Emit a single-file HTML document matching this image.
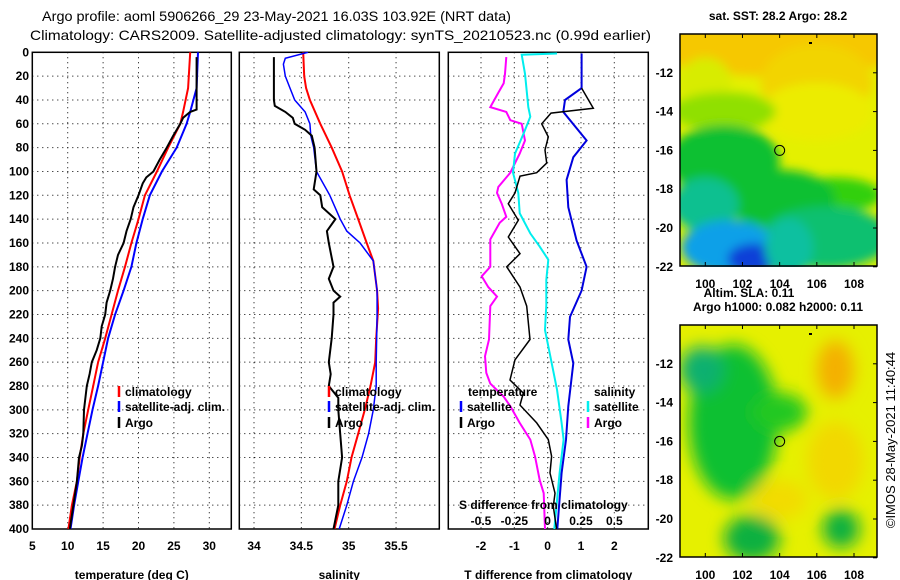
<!DOCTYPE html>
<html><head><meta charset="utf-8"><style>
html,body{margin:0;padding:0;background:#fff;}
svg{display:block;font-family:"Liberation Sans",sans-serif;}
.t{font-size:12px;font-weight:bold;fill:#000;}
</style></head><body>
<svg id="chart" width="900" height="580" viewBox="0 0 900 580" xmlns="http://www.w3.org/2000/svg">
<defs>
<filter id="blur1" x="-20%" y="-20%" width="140%" height="140%"><feGaussianBlur stdDeviation="8"/></filter>
<filter id="blur2" x="-20%" y="-20%" width="140%" height="140%"><feGaussianBlur stdDeviation="5"/></filter>
<clipPath id="clipM1"><rect x="680" y="34" width="197" height="233"/></clipPath>
<clipPath id="clipM2"><rect x="680" y="325" width="197" height="232"/></clipPath>
<clipPath id="clipP1"><rect x="32" y="52" width="199" height="477"/></clipPath>
<clipPath id="clipP2"><rect x="239" y="52" width="200" height="477"/></clipPath>
<clipPath id="clipP3"><rect x="448" y="52" width="200" height="477"/></clipPath>
</defs>
<text x="42" y="21" font-size="14" textLength="469" lengthAdjust="spacingAndGlyphs">Argo profile: aoml 5906266_29 23-May-2021 16.03S 103.92E (NRT data)</text>
<text x="30" y="40" font-size="14" textLength="621" lengthAdjust="spacingAndGlyphs">Climatology: CARS2009. Satellite-adjusted climatology: synTS_20210523.nc (0.99d earlier)</text>
<g id="panels"></g>
<g id="maps"></g>
</svg>
<script>
// ---- data ----
const depthTicks=[0,20,40,60,80,100,120,140,160,180,200,220,240,260,280,300,320,340,360,380,400];
const tTicks=[5,10,15,20,25,30];
const sTicks=[34,34.5,35,35.5];
const dTTicks=[-2,-1,0,1,2];
const dSTickLabels=["-0.5","-0.25","0","0.25","0.5"];
const dSTicks=[-0.5,-0.25,0,0.25,0.5];

const climTdepth=[0,30,50,60,80,100,120,140,160,180,200,220,240,260,280,300,320,340,360,380,400];
const climT=[27.3,27.0,26.3,25.9,24.2,22.6,20.9,20.0,19.0,18.1,17.1,16.2,15.3,14.3,13.6,12.9,12.2,11.7,11.3,10.6,10.1];
const satT=[28.4,28.2,27.3,26.8,25.4,23.3,21.6,20.6,19.7,19.0,17.9,16.7,15.7,15.0,14.3,13.5,12.8,12.1,11.5,10.9,10.4];
const argoTdepth=[4,30,48,50,55,60,70,80,90,100,105,110,120,130,140,150,160,170,180,190,200,210,220,230,240,250,260,270,280,300,320,330,340,360,380,400];
const argoT=[28.2,28.2,28.2,27.3,26.3,25.9,24.9,24.0,23.0,22.1,21.1,20.6,20.0,19.3,18.9,18.3,17.9,17.1,16.7,16.4,16.0,15.5,15.3,14.8,14.6,14.1,13.4,13.1,12.7,12.3,12.2,12.0,11.6,11.3,10.8,10.3];

const climSdepth=[0,20,30,40,60,80,100,120,140,160,175,200,215,240,260,280,300,320,340,360,380,400];
const climS=[34.52,34.53,34.55,34.59,34.70,34.82,34.93,35.01,35.10,35.19,35.26,35.30,35.31,35.29,35.28,35.23,35.17,35.10,35.03,34.98,34.91,34.85];
const satSdepth=[0,5,10,20,30,40,50,60,70,80,100,120,140,150,160,175,200,220,260,280,300,320,340,360,380,400];
const satS=[34.57,34.33,34.31,34.33,34.38,34.43,34.54,34.59,34.60,34.63,34.66,34.80,34.91,34.98,35.12,35.26,35.30,35.30,35.29,35.29,35.26,35.21,35.14,35.05,34.98,34.90];
const argoSdepth=[4,40,45,50,55,60,65,70,80,100,115,120,130,140,150,160,180,190,200,205,210,220,240,260,270,280,290,300,320,340,360,380,400];
const argoS=[34.21,34.21,34.22,34.33,34.41,34.43,34.54,34.61,34.64,34.66,34.63,34.70,34.72,34.86,34.77,34.79,34.84,34.79,34.84,34.91,34.84,34.84,34.82,34.79,34.81,34.79,34.89,34.89,34.91,34.93,34.89,34.89,34.84];

const satdTdepth=[1,30,40,50,74,88,107,130,158,180,200,222,241,261,297,325,353,400];
const satdT=[1.02,1.02,0.52,0.47,1.17,0.77,0.57,0.62,0.87,1.17,1.02,0.67,0.62,0.77,0.62,0.55,0.42,0.29];
const argodTdepth=[30,47,51,60,71,82,93,101,104,118,127,141,155,169,180,197,213,241,258,275,286,296,311,325,339,353,370,381,400];
const argodT=[1.02,1.37,0.10,-0.18,0.02,-0.08,-0.03,-0.33,-0.83,-0.98,-1.18,-0.88,-1.18,-0.83,-1.23,-0.83,-0.63,-0.53,-0.98,-1.13,-0.73,-0.83,-0.33,0.02,0.12,0.07,0.22,0.17,0.27];
const satdSdepth=[1,2,18,46,54,68,85,101,118,135,152,163,174,191,212,233,255,283,311,325,353,400];
const satdS=[0.07,-0.195,-0.17,-0.145,-0.13,-0.18,-0.245,-0.26,-0.22,-0.21,-0.13,-0.06,0.005,-0.01,-0.01,-0.02,0.02,0.07,0.105,0.12,0.09,0.05];
const argodSdepth=[4,18,26,34,46,50,57,60,74,85,101,113,118,127,138,143,157,180,188,197,205,213,241,255,269,278,289,297,311,325,339,359,370,400];
const argodS=[-0.31,-0.32,-0.33,-0.37,-0.43,-0.31,-0.28,-0.195,-0.17,-0.21,-0.28,-0.37,-0.38,-0.345,-0.31,-0.36,-0.43,-0.43,-0.495,-0.445,-0.38,-0.43,-0.44,-0.47,-0.46,-0.43,-0.33,-0.28,-0.21,-0.13,-0.095,-0.06,-0.03,-0.02];

const mapLonTicks=[100,102,104,106,108];
const mapLatTicks=[-12,-14,-16,-18,-20,-22];
const argoLon=104, argoLat=-16;

// ---- helpers ----
const NS="http://www.w3.org/2000/svg";
function mk(tag,attrs,parent,text){const e=document.createElementNS(NS,tag);for(const k in attrs)e.setAttribute(k,attrs[k]);if(text!==undefined)e.textContent=text;parent.appendChild(e);return e;}
const Y0=52.3,Y1=529;
const yD=d=>Y0+(Y1-Y0)*d/400;
function lin(d0,d1,r0,r1){return v=>r0+(v-d0)*(r1-r0)/(d1-d0);}
const xT=lin(5,30,32.3,209.3);
const xS=lin(34,35,254,348.7);
const xdT=lin(-2,2,481,614.3);
const xdS=v=>xdT(v*4);

const panels=document.getElementById('panels');
function panel(name,x0,x1,xf,ticks,tickLabels,xlabel,clip){
  const g=mk('g',{},panels);
  
  
  depthTicks.forEach(d=>{
    if(d>0&&d<400){const l=mk('line',{x1:x0,x2:x1,y1:yD(d),y2:yD(d),stroke:'#000','stroke-width':1,'stroke-dasharray':'1 4'},g);
    
    }
  });
  ticks.forEach((t,i)=>{
    const x=xf(t);
    if(x>x0+2&&x<x1-2){const l=mk('line',{x1:x,x2:x,y1:Y0,y2:Y1,stroke:'#000','stroke-width':1,'stroke-dasharray':'1 4'},g);
    
    }
    const tx=mk('text',{x:x,y:550,'text-anchor':'middle',class:'t'},g,tickLabels[i]);
    
    
  });
  const xl=mk('text',{x:(x0+x1)/2,y:579,'text-anchor':'middle',class:'t'},g,xlabel);
  
  
  const fr=mk('rect',{x:x0,y:Y0,width:x1-x0,height:Y1-Y0,fill:'none',stroke:'#000','stroke-width':1.5},g);
  
  
  return g;
}
function series(g,name,xs,ds,xf,color,w,clip){
  const pts=xs.map((v,i)=>xf(v).toFixed(1)+','+yD(ds[i]).toFixed(1)).join(' ');
  const p=mk('polyline',{points:pts,fill:'none',stroke:color,'stroke-width':w,'clip-path':'url(#'+clip+')'},g);
  
  
}
function legend(g,name,x,y,color,label){
  const gg=mk('g',{},g);
  
  
  mk('line',{x1:x,x2:x,y1:y-6,y2:y+5,stroke:color,'stroke-width':2.5},gg);
  if(label)mk('text',{x:x+6,y:y+4,class:'t'},gg,label);
}

depthTicks.forEach(d=>{
  const t=mk('text',{x:29,y:yD(d)+4,'text-anchor':'end',class:'t'},panels,String(d));
  
  
});

const g1=panel('temperature-panel',32.3,231.3,xT,tTicks,tTicks.map(String),'temperature (deg C)','clipP1');
series(g1,'temperature-climatology-line',climT,climTdepth,xT,'#f00',2,'clipP1');
series(g1,'temperature-satellite-line',satT,climTdepth,xT,'#00f',2,'clipP1');
series(g1,'temperature-argo-line',argoT,argoTdepth,xT,'#000',2,'clipP1');
legend(g1,'legend-climatology',119,392,'#f00','climatology');
legend(g1,'legend-satellite-adj',119,407,'#00f','satellite-adj. clim.');
legend(g1,'legend-argo',119,423,'#000','Argo');

const g2=panel('salinity-panel',239.3,439.3,xS,sTicks,sTicks.map(String),'salinity','clipP2');
series(g2,'salinity-climatology-line',climS,climSdepth,xS,'#f00',2,'clipP2');
series(g2,'salinity-satellite-line',satS,satSdepth,xS,'#00f',1.5,'clipP2');
series(g2,'salinity-argo-line',argoS,argoSdepth,xS,'#000',2,'clipP2');
legend(g2,'legend-climatology-2',329,392,'#f00','climatology');
legend(g2,'legend-satellite-adj-2',329,407,'#00f','satellite-adj. clim.');
legend(g2,'legend-argo-2',329,423,'#000','Argo');

const g3=panel('difference-panel',448.3,648.3,xdT,dTTicks,dTTicks.map(String),'T difference from climatology','clipP3');
series(g3,'salinity-diff-argo-line',argodS,argodSdepth,xdS,'#f0f',2,'clipP3');
series(g3,'salinity-diff-satellite-line',satdS,satdSdepth,xdS,'#0ee',2,'clipP3');
series(g3,'temperature-diff-satellite-line',satdT,satdTdepth,xdT,'#00d',2,'clipP3');
series(g3,'temperature-diff-argo-line',argodT,argodTdepth,xdT,'#000',1.5,'clipP3');
const lt=mk('text',{x:468,y:396,class:'t'},g3,'temperature');


const ls=mk('text',{x:594,y:396,class:'t'},g3,'salinity');


legend(g3,'legend-t-satellite',461,407,'#00f','satellite');
legend(g3,'legend-t-argo',461,423,'#000','Argo');
legend(g3,'legend-s-satellite',588,407,'#0ee','satellite');
legend(g3,'legend-s-argo',588,423,'#f0f','Argo');
const st=mk('text',{x:459,y:509,class:'t'},g3,'S difference from climatology');


dSTicks.forEach((v,i)=>{
  const t=mk('text',{x:xdS(v),y:525,'text-anchor':'middle',class:'t'},g3,dSTickLabels[i]);
  
  
});

// ---- maps ----
const maps=document.getElementById('maps');
const mLon=lin(100,108,705.3,854);
function map(name,top,clip,blobs,base,title,blur){
  const g=mk('g',{},maps);
  
  
  const mLat=lat=>top+(-10-lat)*19.4;
  mk('rect',{x:680,y:top,width:197,height:232,fill:base},g);
  const bg=mk('g',{'clip-path':'url(#'+clip+')'},g);
  const bb=mk('g',{filter:'url(#'+blur+')'},bg);
  blobs.forEach(b=>mk('ellipse',{cx:mLon(b[0]),cy:mLat(b[1]),rx:b[2]*18.6,ry:b[3]*19.4,fill:b[4]},bb));
  mk('rect',{x:680,y:top,width:197,height:232,fill:'none',stroke:'#000','stroke-width':1.5},g);
  mapLonTicks.forEach(l=>{
    mk('line',{x1:mLon(l),x2:mLon(l),y1:top,y2:top+4,stroke:'#000'},g);
    mk('line',{x1:mLon(l),x2:mLon(l),y1:top+232,y2:top+228,stroke:'#000'},g);
    const t=mk('text',{x:mLon(l),y:top+254,'text-anchor':'middle',class:'t'},g,String(l));
    
    
  });
  mapLatTicks.forEach(l=>{
    mk('line',{x1:877,x2:873,y1:mLat(l),y2:mLat(l),stroke:'#000'},g);
    const t=mk('text',{x:673,y:mLat(l)+4,'text-anchor':'end',class:'t'},g,String(l));
    
    
  });
  const c=mk('circle',{cx:mLon(argoLon),cy:mLat(argoLat),r:5,fill:'none',stroke:'#000','stroke-width':1},g);
  
  
  mk('rect',{x:809,y:top+8,width:3,height:2,fill:'#000'},g);
  const tt=mk('text',{x:778,y:top-14,'text-anchor':'middle',class:'t'},g,title);
  
  
}
map('sst-map',34,'clipM1',[
  [104,-10,8,2.2,'#f6c800'],[106,-12.5,3,2,'#f2d400'],[106,-14,3,1.5,'#ecec00'],
  [100,-12.5,1.4,1.3,'#d8ec00'],[101,-14,2.8,1,'#90e000'],
  [101,-16.5,3,1.8,'#10c030'],[107,-18.3,2.5,0.9,'#30d010'],
  [104,-18.5,3,1.5,'#10c030'],[100,-18.8,1.8,1.4,'#10c090'],[106.5,-20.5,3.5,1.6,'#10c070'],
  [101.3,-21,2.6,1.4,'#10a0e8'],[102.6,-21.6,1.4,0.8,'#1040d8'],[104.5,-21,1.3,1.5,'#10c0a0']
],'#e4f000','sat. SST: 28.2 Argo: 28.2','blur2');
map('altimetry-map',325,'clipM2',[
  [101.5,-15,2.4,4,'#10c030'],[99.8,-12.3,1.2,1.2,'#10b070'],[104,-14.5,1.5,1,'#20c820'],
  [102.5,-21,1.5,1.2,'#10b040'],[107.3,-20.5,1,1,'#10b040'],[107,-12.3,1,1.5,'#f4b000'],
  [107,-17,1.5,2,'#f2d800'],[104,-19,1.5,1,'#f2dc00']
],'#e6f000','Argo h1000: 0.082 h2000: 0.11','blur1');
const sla=mk('text',{x:749,y:297,'text-anchor':'middle',class:'t'},maps,'Altim. SLA: 0.11');


const cp=mk('text',{x:895,y:440,'text-anchor':'middle',transform:'rotate(-90 895 440)','font-size':'13'},maps,'©IMOS 28-May-2021 11:40:44');


</script>
</body></html>
